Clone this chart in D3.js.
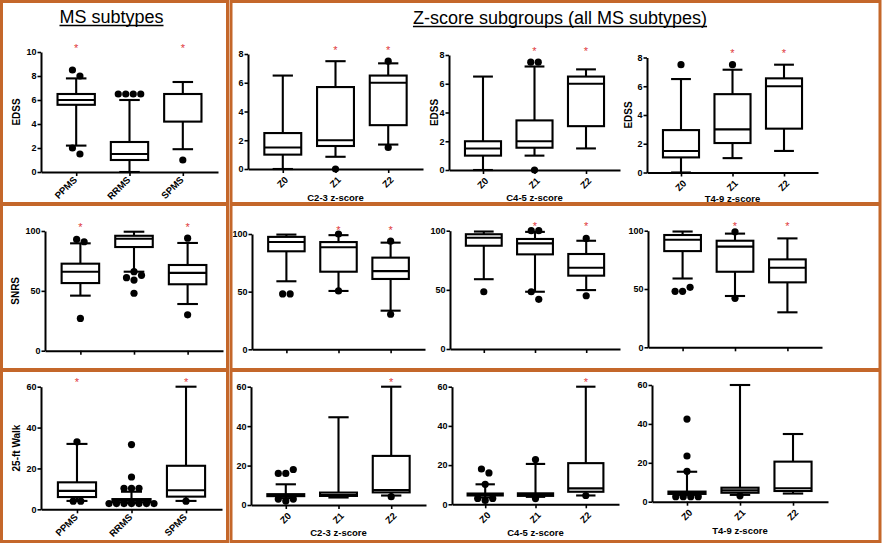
<!DOCTYPE html>
<html><head><meta charset="utf-8">
<script src="https://cdn.jsdelivr.net/npm/d3@7"></script>
<style>
body{margin:0;background:#fff}
svg{display:block}
text{font-family:"Liberation Sans",Arial,Helvetica,sans-serif}
</style>
</head><body>
<svg id="c" width="884" height="544"></svg>
<script>
// ---------------- data ----------------
const subtypes = ["PPMS","RRMS","SPMS"];
const zGroups = ["Z0","Z1","Z2"];
const zTitles = ["C2-3 z-score","C4-5 z-score","T4-9 z-score"];
const yTitles = ["EDSS","SNRS","25-ft Walk"];
const titleLeft = "MS subtypes";
const titleRight = "Z-score subgroups (all MS subtypes)";
const edssTicksSub = [0,2,4,6,8,10];
const edssTicksZ = [0,2,4,6,8];
const snrsTicks = [0,50,100];
const walkTicks = [0,20,40,60];

// box stats: [low whisker, Q1, median, Q3, high whisker]
const edssSub = [[2.2,5.6,6.0,6.5,7.8],[0,1.0,1.5,2.5,6.0],[1.9,4.2,6.5,6.5,7.5]];
const edssSubOut = [[8.5,8.0,2.0,1.5],[6.5,6.5,6.5,6.5],[1.0]];
const edssSubSig = [1,0,1];
const edssC23 = [[0,1.0,1.5,2.5,6.5],[0.85,1.6,2.0,5.7,7.5],[1.7,3.05,6.0,6.5,7.35]];
const edssC23Out = [[],[0],[7.5,1.5]];
const edssC23Sig = [0,1,1];
const edssC45 = [[0,1.0,1.5,2.0,6.5],[1.0,1.55,2.0,3.45,7.2],[1.5,3.05,6.0,6.5,7.0]];
const edssC45Out = [[],[7.5,7.5,0],[]];
const edssC45Sig = [0,1,1];
const edssT49 = [[0,1.05,1.5,2.95,6.5],[1.0,2.05,3.0,5.45,7.15],[1.5,3.05,6.0,6.55,7.5]];
const edssT49Out = [[7.5],[7.5],[]];
const edssT49Sig = [0,1,1];

const snrsSub = [[46,56.5,66,72.7,89.7],[66,86.6,93.5,96,99.4],[39,55.5,65,71.6,90]];
const snrsSubOut = [[93,91,27],[66,63,61,59,48],[94,30]];
const snrsSubSig = [1,0,1];
const snrsC23 = [[59,85,93,97.5,99.5],[50.6,67.3,88.5,93,99],[33.5,61,67.8,79.5,92.5]];
const snrsC23Out = [[48,48],[100,50.6],[93.8,30.4]];
const snrsC23Sig = [0,1,1];
const snrsC45 = [[59,87.3,94,97,99.3],[48.4,80,89.3,93,99],[49.8,62,68.7,80.3,91.5]];
const snrsC45Out = [[48.4],[100,100,48.4,42],[93.5,45]];
const snrsC45Sig = [0,1,1];
const snrsT49 = [[59,82.5,92.2,96.3,99.3],[44,64.8,86.3,91.4,97.5],[30,55.7,68.2,75.4,93.4]];
const snrsT49Out = [[51.4,48,48],[99,42],[]];
const snrsT49Sig = [0,1,1];

const walkSub = [[4.1,6,9,13.2,32],[3,3.5,4.5,5,8.6],[4.1,6.2,9.3,21.3,60]];
const walkSubOut = [[33,4,4],[2.8,2.8,2.8,2.8,2.8,2.8,2.8,10.3,10.3,10.3,15.8,31.7],[4]];
const walkSubSig = [1,0,1];
const walkC23 = [[3.5,4.5,5,5.5,10.5],[3.8,4.6,5.0,6.3,44.5],[4.8,6.4,7.6,24.9,60]];
const walkC23Out = [[18,16,16,3,3,2],[],[4.2]];
const walkC23Sig = [0,0,1];
const walkC45 = [[3.5,4.5,5,5.5,10.2],[3.8,4.3,5.0,5.6,20.6],[4.5,6.4,8.1,21,60]];
const walkC45Out = [[18,16,10.2,3,3,2],[22.8,2.9],[4.5]];
const walkC45Sig = [0,0,1];
const walkT49 = [[3.5,4.0,4.6,5.2,15.4],[3.5,4.6,5.8,7.2,60],[4.2,5.5,6.9,20.6,34.8]];
const walkT49Out = [[42.5,23.5,15.6,2.6,2.6,2.6,2.6],[3.0],[]];
const walkT49Sig = [0,0,0];

// ---------------- layout ----------------
const panels = [
  {cats:subtypes, stats:edssSub, outs:edssSubOut, sig:edssSubSig, ticks:edssTicksSub, yTitle:yTitles[0], xLabels:true,
   lay:{x0:41,x1:218,y0:172,yT:52,ytx:16.5}},
  {cats:zGroups, stats:edssC23, outs:edssC23Out, sig:edssC23Sig, ticks:edssTicksZ, xLabels:true, xTitle:zTitles[0],
   lay:{x0:248,x1:423,y0:169,yT:54,xtY:201}},
  {cats:zGroups, stats:edssC45, outs:edssC45Out, sig:edssC45Sig, ticks:edssTicksZ, yTitle:yTitles[0], xLabels:true, xTitle:zTitles[1],
   lay:{x0:449,x1:620,y0:170,yT:55,ytx:434.5,xtY:201}},
  {cats:zGroups, stats:edssT49, outs:edssT49Out, sig:edssT49Sig, ticks:edssTicksZ, yTitle:yTitles[0], xLabels:true, xTitle:zTitles[2],
   lay:{x0:647,x1:818,y0:172.5,yT:57.5,ytx:628,xtY:201.5}},

  {cats:subtypes, stats:snrsSub, outs:snrsSubOut, sig:snrsSubSig, ticks:snrsTicks, yTitle:yTitles[1], xLabels:false,
   lay:{x0:45,x1:223,y0:350.7,yT:231,ytx:15}},
  {cats:zGroups, stats:snrsC23, outs:snrsC23Out, sig:snrsC23Sig, ticks:snrsTicks, xLabels:false,
   lay:{x0:252,x1:425,y0:349.3,yT:234}},
  {cats:zGroups, stats:snrsC45, outs:snrsC45Out, sig:snrsC45Sig, ticks:snrsTicks, xLabels:false,
   lay:{x0:450,x1:620,y0:349,yT:230.7}},
  {cats:zGroups, stats:snrsT49, outs:snrsT49Out, sig:snrsT49Sig, ticks:snrsTicks, xLabels:false,
   lay:{x0:648,x1:822,y0:347.3,yT:230.7}},

  {cats:subtypes, stats:walkSub, outs:walkSubOut, sig:walkSubSig, ticks:walkTicks, yTitle:yTitles[2], xLabels:true,
   lay:{x0:41,x1:222,y0:509.3,yT:386.7,ytx:16}},
  {cats:zGroups, stats:walkC23, outs:walkC23Out, sig:walkC23Sig, ticks:walkTicks, xLabels:true, xTitle:zTitles[0],
   lay:{x0:251,x1:426,y0:505,yT:386.7,xtY:535.5}},
  {cats:zGroups, stats:walkC45, outs:walkC45Out, sig:walkC45Sig, ticks:walkTicks, xLabels:true, xTitle:zTitles[1],
   lay:{x0:452,x1:619,y0:504.3,yT:386.7,xtY:535.5}},
  {cats:zGroups, stats:walkT49, outs:walkT49Out, sig:walkT49Sig, ticks:walkTicks, xLabels:true, xTitle:zTitles[2],
   lay:{x0:652,x1:828,y0:501.7,yT:385,xtY:533.5}}
];

const svg = d3.select("#c");
const border = "#c4672a";
const starColor = "#e0383c";

// frames
svg.append("rect").attr("x",1.5).attr("y",1.5).attr("width",226).attr("height",540)
  .attr("fill","none").attr("stroke",border).attr("stroke-width",3);
svg.append("rect").attr("x",231).attr("y",1.5).attr("width",649).attr("height",540)
  .attr("fill","none").attr("stroke",border).attr("stroke-width",3);
[[1.5,227.5],[231,880]].forEach(([a,b])=>{
  [204,370].forEach(yy=>{
    svg.append("line").attr("x1",a).attr("x2",b).attr("y1",yy).attr("y2",yy)
      .attr("stroke",border).attr("stroke-width",4);
  });
});

// titles
function title(txt, cx, by){
  const t = svg.append("text").attr("x",cx).attr("y",by).attr("text-anchor","middle")
    .attr("font-size",18).attr("fill","#000").text(txt);
  const w = t.node().getComputedTextLength();
  svg.append("line").attr("x1",cx-w/2).attr("x2",cx+w/2).attr("y1",by+2.5).attr("y2",by+2.5)
    .attr("stroke","#000").attr("stroke-width",1.3);
}
title(titleLeft, 111.5, 23);
title(titleRight, 560, 24);

// outlier placement: slot-based swarm
function placeOutliers(vals, y, thresh){
  const pts = vals.map(v=>({v, py:y(v), slot:0}));
  const order = pts.slice().sort((a,b)=>a.v-b.v);
  const placed = [];
  const cands = [0,-1,1,-2,2,-3,3,-4,4,-5,5];
  for(const p of order){
    for(const s of cands){
      if(!placed.some(q=>q.slot===s && Math.abs(q.py-p.py)<thresh)){ p.slot=s; break; }
    }
    placed.push(p);
  }
  const byY = pts.slice().sort((a,b)=>a.py-b.py);
  let cluster = [];
  const flush = ()=>{
    if(!cluster.length) return;
    const mn = d3.min(cluster,d=>d.slot), mx = d3.max(cluster,d=>d.slot);
    const sh = -(mn+mx)/2;
    cluster.forEach(d=>d.off = d.slot+sh);
    cluster = [];
  };
  byY.forEach(p=>{
    if(cluster.length && p.py - cluster[cluster.length-1].py >= thresh) flush();
    cluster.push(p);
  });
  flush();
  return pts;
}

function drawPanel(P){
  const L = P.lay;
  const g = svg.append("g");
  const x = d3.scalePoint().domain(P.cats).range([L.x0, L.x1]).padding(0.66);
  const y = d3.scaleLinear().domain([0, d3.max(P.ticks)]).range([L.y0, L.yT]);
  const step = x.step(), bw = step*0.7, cw = bw*0.55;
  const isSub = P.cats === subtypes;

  const ya = g.append("g").attr("transform",`translate(${L.x0},0)`)
    .call(d3.axisLeft(y).tickValues(P.ticks).tickSize(3.5).tickSizeOuter(0).tickPadding(1));
  const xa = g.append("g").attr("transform",`translate(0,${L.y0})`)
    .call(d3.axisBottom(x).tickSize(4).tickSizeOuter(0));
  [ya,xa].forEach(a=>{
    a.attr("font-family",null).attr("font-size",null);
    a.select(".domain").attr("stroke","#000").attr("stroke-width",2);
    a.selectAll(".tick line").attr("stroke","#000").attr("stroke-width",1.6);
    a.selectAll(".tick text").attr("fill","#000").attr("font-weight","bold").attr("font-size",9);
  });
  if(P.xLabels){
    const off = isSub ? [1,8.5] : [5.5,11.5];
    xa.selectAll(".tick text").attr("x",0).attr("y",0).attr("dy",0)
      .attr("text-anchor","end").attr("font-size",9.5)
      .attr("transform",`translate(${off[0]},${off[1]}) rotate(-45)`);
  } else {
    xa.selectAll(".tick text").remove();
  }

  P.cats.forEach((c,i)=>{
    const s = P.stats[i], cx = x(c);
    const bg = g.append("g").attr("stroke","#000").attr("stroke-width",2.1).attr("fill","none");
    bg.append("line").attr("x1",cx).attr("x2",cx).attr("y1",y(s[0])).attr("y2",y(s[1]));
    bg.append("line").attr("x1",cx).attr("x2",cx).attr("y1",y(s[3])).attr("y2",y(s[4]));
    bg.append("line").attr("x1",cx-cw/2).attr("x2",cx+cw/2).attr("y1",y(s[0])).attr("y2",y(s[0]));
    bg.append("line").attr("x1",cx-cw/2).attr("x2",cx+cw/2).attr("y1",y(s[4])).attr("y2",y(s[4]));
    bg.append("rect").attr("x",cx-bw/2).attr("width",bw)
      .attr("y",y(s[3])).attr("height",Math.max(0.01,y(s[1])-y(s[3])))
      .attr("fill","#fff");
    bg.append("line").attr("x1",cx-bw/2).attr("x2",cx+bw/2).attr("y1",y(s[2])).attr("y2",y(s[2]));

    const pts = placeOutliers(P.outs[i], y, 8);
    g.selectAll(null).data(pts).enter().append("circle")
      .attr("cx",d=>cx + d.off*7.5).attr("cy",d=>d.py).attr("r",3.6).attr("fill","#000");

    if(P.sig[i]){
      g.append("text").attr("x",cx).attr("y",L.yT-0.5).attr("text-anchor","middle")
        .attr("font-size",11).attr("fill",starColor).text("*");
    }
  });

  if(P.yTitle){
    g.append("text").attr("transform",`translate(${L.ytx},${(L.y0+L.yT)/2}) rotate(-90)`)
      .attr("text-anchor","middle").attr("dominant-baseline","central")
      .attr("font-size",10).attr("font-weight","bold").attr("fill","#000").text(P.yTitle);
  }
  if(P.xTitle){
    g.append("text").attr("x",x(P.cats[1])).attr("y",L.xtY).attr("text-anchor","middle")
      .attr("font-size",9.5).attr("font-weight","bold").attr("fill","#000").text(P.xTitle);
  }
}
panels.forEach(drawPanel);
</script>
</body></html>
